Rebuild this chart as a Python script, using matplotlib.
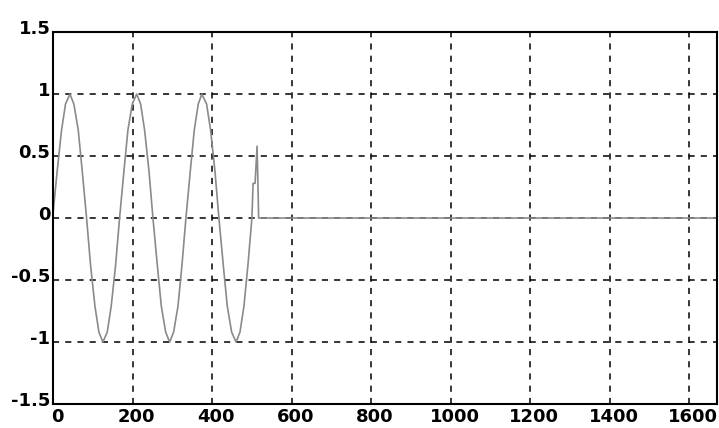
import matplotlib
matplotlib.use('Agg')
import matplotlib.pyplot as plt
import matplotlib.transforms as mtrans

# points
sig_x = [0, 10, 21, 31, 42, 52, 63, 73, 84, 94, 105, 115, 125, 136, 146, 157,
         167, 178, 188, 199, 210, 220, 230, 241, 251, 262, 272, 283, 293, 303,
         314, 324, 334, 345, 355, 365, 374, 386, 396, 407, 417, 428, 438, 449,
         460, 470, 480, 490, 500, 503, 508, 513, 515, 517, 1670]
sig_y = [0.05, 0.38, 0.71, 0.92, 1.0, 0.92, 0.71, 0.38, 0.0, -0.38, -0.71, -0.92, -1.0, -0.92, -0.71, -0.38,
         0.0, 0.38, 0.71, 0.92, 1.0, 0.92, 0.71, 0.38, 0.0, -0.38, -0.71, -0.92, -1.0, -0.92,
         -0.71, -0.38, 0.0, 0.38, 0.71, 0.92, 1.0, 0.92, 0.71, 0.38, 0.0, -0.38, -0.71, -0.92,
         -1.0, -0.92, -0.71, -0.38, 0.0, 0.28, 0.28, 0.58, 0.3, 0.0, 0.0]

xticks = [0, 200, 400, 600, 800, 1000, 1200, 1400, 1600]
yticks = [-1.5, -1, -0.5, 0, 0.5, 1, 1.5]
ylabels = ['-1.5', '-1', '-0.5', '0', '0.5', '1', '1.5']

fig = plt.figure(figsize=(7.19, 4.28), dpi=100)
ax = fig.add_axes([0.074, 0.056, 0.923, 0.869])
ax.plot(sig_x, sig_y, color='#8a8a8a', lw=1.2)
ax.set_xlim(0, 1670)
ax.set_ylim(-1.5, 1.5)
ax.set_xticks(xticks)
ax.set_xticklabels([str(t) for t in xticks])
ax.set_yticks(yticks)
ax.set_yticklabels(ylabels)
ax.grid(True, color='black', linestyle=(0, (4, 4)), lw=1.1)
ax.tick_params(length=0, pad=2)
ax.tick_params(axis='x', pad=3)
xoff = mtrans.ScaledTranslation(4 / 100, 0, fig.dpi_scale_trans)
yoff = mtrans.ScaledTranslation(0, 5 / 100, fig.dpi_scale_trans)
for lab in ax.get_xticklabels():
    lab.set_transform(lab.get_transform() + xoff)
for lab in ax.get_yticklabels():
    lab.set_transform(lab.get_transform() + yoff)
for lab in ax.get_xticklabels() + ax.get_yticklabels():
    lab.set_family(['Liberation Sans Narrow', 'DejaVu Sans'])
    lab.set_fontweight('bold')
    lab.set_fontsize(13)
for s in ax.spines.values():
    s.set_linewidth(1.5)
plt.savefig('out.png', dpi=100)
